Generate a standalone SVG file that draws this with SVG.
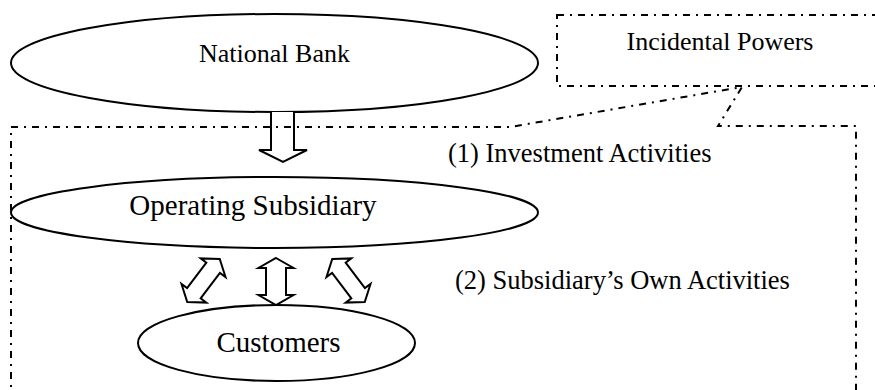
<svg xmlns="http://www.w3.org/2000/svg" width="875" height="390" viewBox="0 0 875 390">
  <defs>
    <style>
      .node { fill: #fff; stroke: #000; stroke-width: 2; }
      .lbl { font-family: "Liberation Serif", "Times New Roman", serif; fill: #000; text-anchor: middle; }
      .note { font-family: "Liberation Serif", "Times New Roman", serif; fill: #000; }
      .dashdot { fill: none; stroke: #000; stroke-width: 2; stroke-dasharray: 7 6 2 6; }
      .blk { fill: #fff; stroke: #000; stroke-width: 2; stroke-linejoin: miter; }
    </style>
    <!-- up-down block arrow, centred on the origin -->
    <path id="ud" d="M0,-27 L15.5,-16 L8.5,-16 L8.5,16 L15.5,16 L0,27 L-15.5,16 L-8.5,16 L-8.5,-16 L-15.5,-16 Z"/>
  </defs>
  <rect width="875" height="390" fill="#fff"/>

  <g id="national-bank">
    <ellipse class="node" cx="274.5" cy="63" rx="263.5" ry="49"/>
    <text class="lbl" x="274.5" y="62" font-size="26">National Bank</text>
  </g>

  <g id="incidental-powers">
    <rect class="dashdot" x="557" y="15" width="330" height="71"/>
    <text class="lbl" x="720" y="50" font-size="26">Incidental Powers</text>
  </g>

  <g id="connectors">
    <!-- bank to subsidiary -->
    <path class="blk" d="M271,112 L271,150 L259,150 L283,162 L307,150 L294,150 L294,112"/>
    <!-- subsidiary to customers -->
    <path class="blk" d="M276,258 L293.5,268 L286,268 L286,295 L293.5,295 L276,305 L258.5,295 L266,295 L266,268 L258.5,268 Z"/>
    <use href="#ud" class="blk" transform="translate(203.5,280.5) rotate(37)"/>
    <use href="#ud" class="blk" transform="translate(348.5,280.5) rotate(-37)"/>
  </g>

  <g id="powers-scope">
    <path class="dashdot" d="M11,400 L11,127 L510,127 L742,87 L718,126 L856,126 L856,400"/>
    <text class="note" x="448" y="162" font-size="26.5">(1) Investment Activities</text>
    <text class="note" x="455" y="289" font-size="26.5">(2) Subsidiary’s Own Activities</text>
  </g>

  <g id="operating-subsidiary">
    <ellipse class="node" cx="274.5" cy="212.5" rx="263.5" ry="35.5"/>
    <text class="lbl" x="253" y="215" font-size="29">Operating Subsidiary</text>
  </g>

  <g id="customers">
    <ellipse class="node" cx="276.5" cy="343" rx="138.5" ry="38"/>
    <text class="lbl" x="278.5" y="352" font-size="29">Customers</text>
  </g>
</svg>
